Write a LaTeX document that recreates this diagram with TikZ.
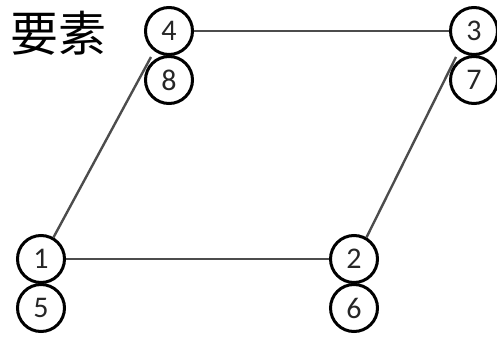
\documentclass[tikz,border=0pt]{standalone}
\usepackage{fontspec}
\setmainfont{Carlito}
\newfontfamily\cjk{Noto Sans CJK SC}
\begin{document}
\begin{tikzpicture}[x=1pt,y=-1pt,
  vnode/.style={circle,draw=black,line width=3pt,minimum size=47pt,inner sep=0pt,font=\fontsize{30}{30}\selectfont,text=black!85},
  edge/.style={draw=black!70,line width=2.4pt}]
\useasboundingbox (0,0) rectangle (497,337);
\node[font=\cjk\fontsize{48}{48}\selectfont,anchor=center] (title) at (58,33) {要素};
\node[vnode] (n4) at (169,31) {4};
\node[vnode] (n8) at (169,80) {8};
\node[vnode] (n3) at (474,31) {3};
\node[vnode] (n7) at (474,80) {7};
\node[vnode] (n1) at (41,259) {1};
\node[vnode] (n5) at (41,308) {5};
\node[vnode] (n2) at (354,259) {2};
\node[vnode] (n6) at (354,308) {6};
\coordinate (t4) at (151,57);
\coordinate (t3) at (456,57);
\draw[edge] (n4) -- (n3);
\draw[edge] (n1) -- (n2);
\draw[edge] (n1.60) -- (t4);
\draw[edge] (n2.60) -- (t3);
\end{tikzpicture}
\end{document}
